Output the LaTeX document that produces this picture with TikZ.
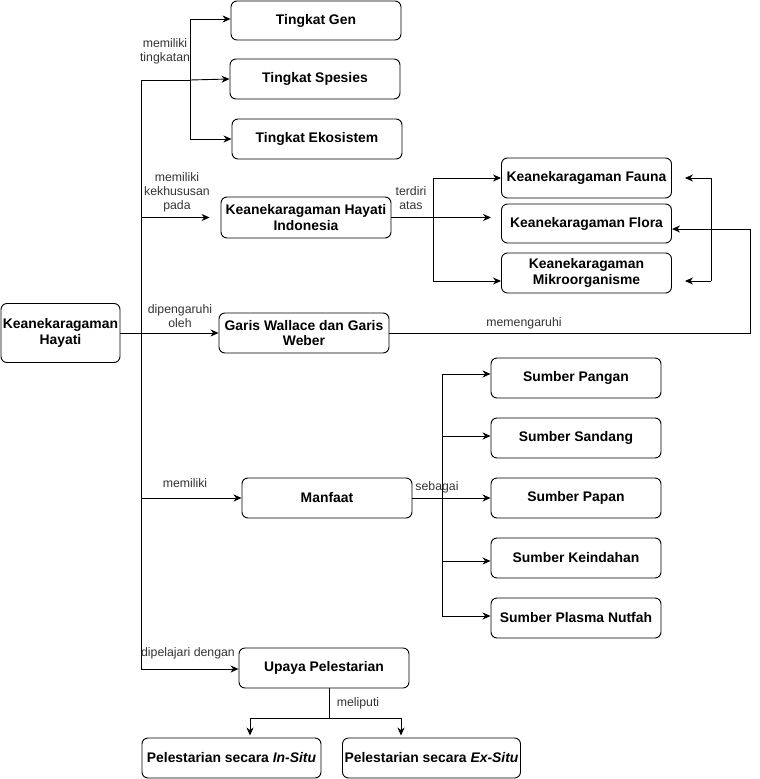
\documentclass[tikz,border=0pt]{standalone}
\usepackage{fontspec}
\setmainfont{Liberation Sans}
\usetikzlibrary{arrows.meta}
\begin{document}
\begin{tikzpicture}[x=1pt,y=-1pt,
  box/.style={draw, rounded corners=6pt, minimum width=170pt, minimum height=40pt, inner sep=1pt, align=center, font=\fontsize{13.9}{15.5}\selectfont\bfseries, line width=0.9pt},
  lbl/.style={font=\fontsize{12.3}{14}\selectfont, text=black!80, align=center, inner sep=0},
  ln/.style={line width=0.9pt},
  arr/.style={ln, -{Stealth[length=8pt,width=7pt,inset=2.5pt]}}
]
\useasboundingbox (0,0) rectangle (760,779);

% nodes
\node[box, minimum width=119pt, minimum height=59pt] (root) at (60.5,333) {Keanekaragaman\\Hayati};
\node[box, minimum height=39pt] (gen) at (316,20.5) {Tingkat Gen};
\node[box] (spesies) at (315,79) {Tingkat Spesies};
\node[box] (ekosistem) at (317,139) {Tingkat Ekosistem};
\node[box, minimum height=41pt] (khi) at (306,217.5) {Keanekaragaman Hayati\\Indonesia};
\node[box] (fauna) at (586.5,178) {Keanekaragaman Fauna};
\node[box, minimum height=39pt] (flora) at (586.5,223.5) {Keanekaragaman Flora};
\node[box] (mikro) at (586.5,273) {Keanekaragaman\\Mikroorganisme};
\node[box] (garis) at (304,333) {Garis Wallace dan Garis\\Weber};
\node[box] (manfaat) at (327,498) {Manfaat};
\node[box] (pangan) at (576,378) {Sumber Pangan};
\node[box] (sandang) at (576,438) {Sumber Sandang};
\node[box] (papan) at (576,498) {Sumber Papan};
\node[box] (keindahan) at (576,558) {Sumber Keindahan};
\node[box] (plasma) at (576,618) {Sumber Plasma Nutfah};
\node[box] (upaya) at (324,668) {Upaya Pelestarian};
\node[box, minimum width=179pt] (insitu) at (231.5,758) {Pelestarian secara \textit{In-Situ}};
\node[box, minimum width=178pt] (exsitu) at (431.5,758) {Pelestarian secara \textit{Ex-Situ}};

% trunk
\coordinate (tTop) at (141,80);
\coordinate (tBot) at (141,669);
\draw[ln] (tTop) -- (tBot);
\draw[arr] (root.east) -- (garis.west);

% tingkat
\coordinate (b1) at (190,80);
\coordinate (b1t) at (190,19);
\coordinate (b1b) at (190,139);
\draw[ln] (tTop) -- (b1);
\draw[ln] (b1t) -- (b1b);
\draw[arr] (b1t) -- (b1t -| gen.west);
\draw[arr] (b1) -- (spesies.west);
\draw[arr] (b1b) -- (ekosistem.west);

% KHI
\coordinate (k1) at (141,217.5);
\draw[arr, shorten >=11pt] (k1) -- (khi.west);
\coordinate (f1) at (433,178);
\coordinate (f2) at (433,281);
\draw[ln] (f1) -- (f2);
\draw[arr, shorten >=10pt] (khi.east) -- (khi.east -| flora.west);
\draw[arr] (f1) -- (fauna.west);
\draw[arr] (f2) -- (f2 -| mikro.west);

% right feedback
\coordinate (r1) at (711,178);
\coordinate (r2) at (711,281);
\draw[ln] (r1) -- (r2);
\draw[arr, shorten >=13pt] (r1) -- (r1 -| fauna.east);
\draw[arr, shorten >=13pt] (r2) -- (r2 -| mikro.east);

% memengaruhi
\coordinate (m1) at (750,333);
\coordinate (m2) at (750,229);
\draw[arr] (garis.east) -- (m1) -- (m2) -- (m2 -| flora.east);

% manfaat
\coordinate (p0) at (141,498);
\draw[arr] (p0) -- (manfaat.west);
\draw[arr] (manfaat.east) -- (papan.west);
\coordinate (s1) at (442,374);
\coordinate (s2) at (442,436);
\coordinate (s4) at (442,561);
\coordinate (s5) at (442,616);
\draw[ln] (s1) -- (s5);
\draw[arr] (s1) -- (s1 -| pangan.west);
\draw[arr] (s2) -- (s2 -| sandang.west);
\draw[arr] (s4) -- (s4 -| keindahan.west);
\draw[arr] (s5) -- (s5 -| plasma.west);

% upaya
\draw[arr] (tBot) -- (tBot -| upaya.west);
\coordinate (u1) at (329,718);
\coordinate (u2) at (250,718);
\coordinate (u3) at (401,718);
\draw[ln] (upaya.south -| u1) -- (u1);
\draw[ln] (u2) -- (u3);
\draw[arr, shorten >=2pt] (u2) -- (u2 |- insitu.north);
\draw[arr, shorten >=2pt] (u3) -- (u3 |- exsitu.north);

% labels
\node[lbl] (l1) at (165,51) {memiliki\\tingkatan};
\node[lbl] (l2) at (177,192) {memiliki\\kekhususan\\pada};
\node[lbl] (l3) at (411,198.5) {terdiri\\atas};
\node[lbl] (l4) at (180,316) {dipengaruhi\\oleh};
\node[lbl] (l5) at (524,323) {memengaruhi};
\node[lbl] (l6) at (185,483) {memiliki};
\node[lbl] (l7) at (437,487) {sebagai};
\node[lbl] (l8) at (188,653) {dipelajari dengan};
\node[lbl] (l9) at (358,703) {meliputi};
\end{tikzpicture}
\end{document}
